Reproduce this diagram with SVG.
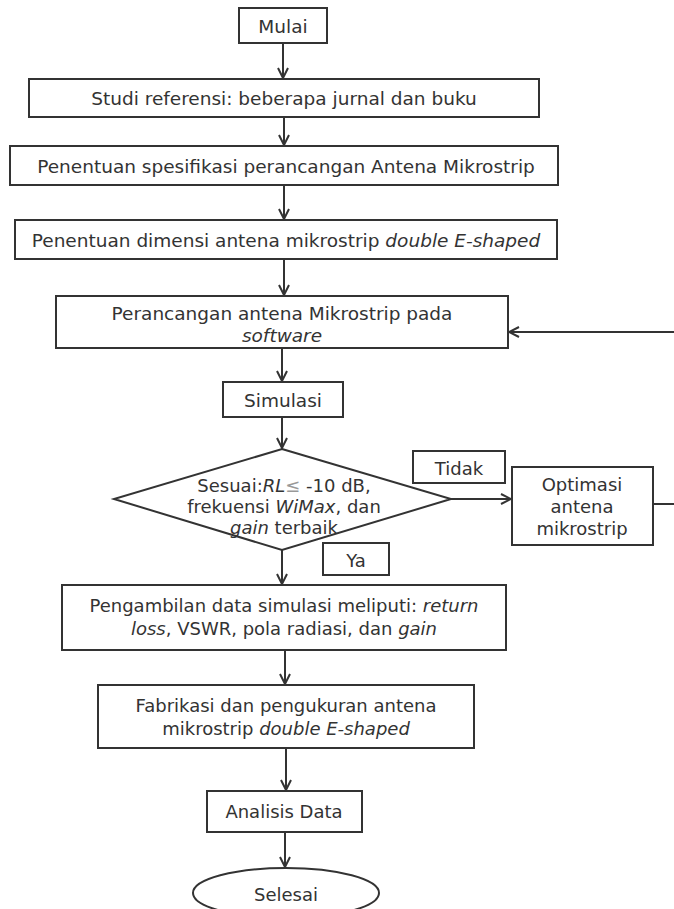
<svg xmlns="http://www.w3.org/2000/svg" width="674" height="909" viewBox="0 0 674 909">
<defs>
<style>
.b{fill:#fff;stroke:#333;stroke-width:2}
.t{font-family:"DejaVu Sans",Verdana,sans-serif;font-size:18.5px;fill:#333;text-anchor:middle;dominant-baseline:central}
.s{font-size:18px}
.i{font-style:italic}
.c{fill:none;stroke:#333;stroke-width:2}
</style>
<marker id="ah" viewBox="0 0 12 12" refX="11" refY="6" markerWidth="12" markerHeight="12" markerUnits="userSpaceOnUse" orient="auto">
<path d="M1,1 L11,6 L1,11" fill="none" stroke="#333" stroke-width="2"/>
</marker>
</defs>
<rect width="674" height="909" fill="#fff"/>
<g id="connectors">
<line class="c" x1="283" y1="43" x2="283" y2="78" marker-end="url(#ah)"/>
<line class="c" x1="284" y1="117" x2="284" y2="145" marker-end="url(#ah)"/>
<line class="c" x1="284" y1="185" x2="284" y2="219" marker-end="url(#ah)"/>
<line class="c" x1="284" y1="259" x2="284" y2="295" marker-end="url(#ah)"/>
<line class="c" x1="282" y1="348" x2="282" y2="381" marker-end="url(#ah)"/>
<line class="c" x1="282" y1="417" x2="282" y2="448" marker-end="url(#ah)"/>
<line class="c" x1="451" y1="499" x2="511" y2="499" marker-end="url(#ah)"/>
<path class="c" d="M653,504 L690,504 L690,332 L509,332" marker-end="url(#ah)"/>
<line class="c" x1="282" y1="550" x2="282" y2="584" marker-end="url(#ah)"/>
<line class="c" x1="285" y1="650" x2="285" y2="684" marker-end="url(#ah)"/>
<line class="c" x1="286" y1="748" x2="286" y2="790" marker-end="url(#ah)"/>
<line class="c" x1="285" y1="832" x2="285" y2="867" marker-end="url(#ah)"/>
</g>
<g id="mulai"><rect class="b" x="239" y="8" width="88" height="35"/><text class="t" x="283" y="26">Mulai</text></g>
<g id="studi"><rect class="b" x="29" y="79" width="510" height="38"/><text class="t" x="284" y="98">Studi referensi: beberapa jurnal dan buku</text></g>
<g id="spesifikasi"><rect class="b" x="10" y="146" width="548" height="39"/><text class="t" x="286" y="166">Penentuan spesifikasi perancangan Antena Mikrostrip</text></g>
<g id="dimensi"><rect class="b" x="15" y="220" width="542" height="39"/><text class="t" x="286" y="240">Penentuan dimensi antena mikrostrip <tspan class="i">double E-shaped</tspan></text></g>
<g id="perancangan"><rect class="b" x="56" y="296" width="452" height="52"/><text class="t" x="282" y="313">Perancangan antena Mikrostrip pada</text><text class="t i" x="282" y="335">software</text></g>
<g id="simulasi"><rect class="b" x="223" y="382" width="120" height="35"/><text class="t" x="283" y="400">Simulasi</text></g>
<g id="sesuai"><polygon class="b" points="282,449 451,499 282,550 114,499"/>
<text class="t s" x="284" y="485">Sesuai:<tspan class="i">RL</tspan><tspan fill="#999">≤</tspan> -10 dB,</text>
<text class="t s" x="284" y="506">frekuensi <tspan class="i">WiMax</tspan>, dan</text>
<text class="t s" x="284" y="527"><tspan class="i">gain</tspan> terbaik</text></g>
<g id="tidak"><rect class="b" x="413" y="451" width="92" height="32"/><text class="t s" x="459" y="468">Tidak</text></g>
<g id="optimasi"><rect class="b" x="512" y="467" width="141" height="78"/><text class="t s" x="582" y="484">Optimasi</text><text class="t s" x="582" y="506">antena</text><text class="t s" x="582" y="528">mikrostrip</text></g>
<g id="ya"><rect class="b" x="323" y="543" width="66" height="32"/><text class="t s" x="356" y="560">Ya</text></g>
<g id="pengambilan"><rect class="b" x="62" y="585" width="444" height="65"/><text class="t s" x="284" y="605">Pengambilan data simulasi meliputi: <tspan class="i">return</tspan></text><text class="t s" x="284" y="628"><tspan class="i">loss</tspan>, VSWR, pola radiasi, dan <tspan class="i">gain</tspan></text></g>
<g id="fabrikasi"><rect class="b" x="98" y="685" width="376" height="63"/><text class="t s" x="286" y="705">Fabrikasi dan pengukuran antena</text><text class="t s" x="286" y="728">mikrostrip <tspan class="i">double E-shaped</tspan></text></g>
<g id="analisis"><rect class="b" x="207" y="791" width="155" height="41"/><text class="t s" x="284" y="811">Analisis Data</text></g>
<g id="selesai"><ellipse class="b" cx="286" cy="893" rx="93" ry="25"/><text class="t s" x="286" y="894">Selesai</text></g>
</svg>
